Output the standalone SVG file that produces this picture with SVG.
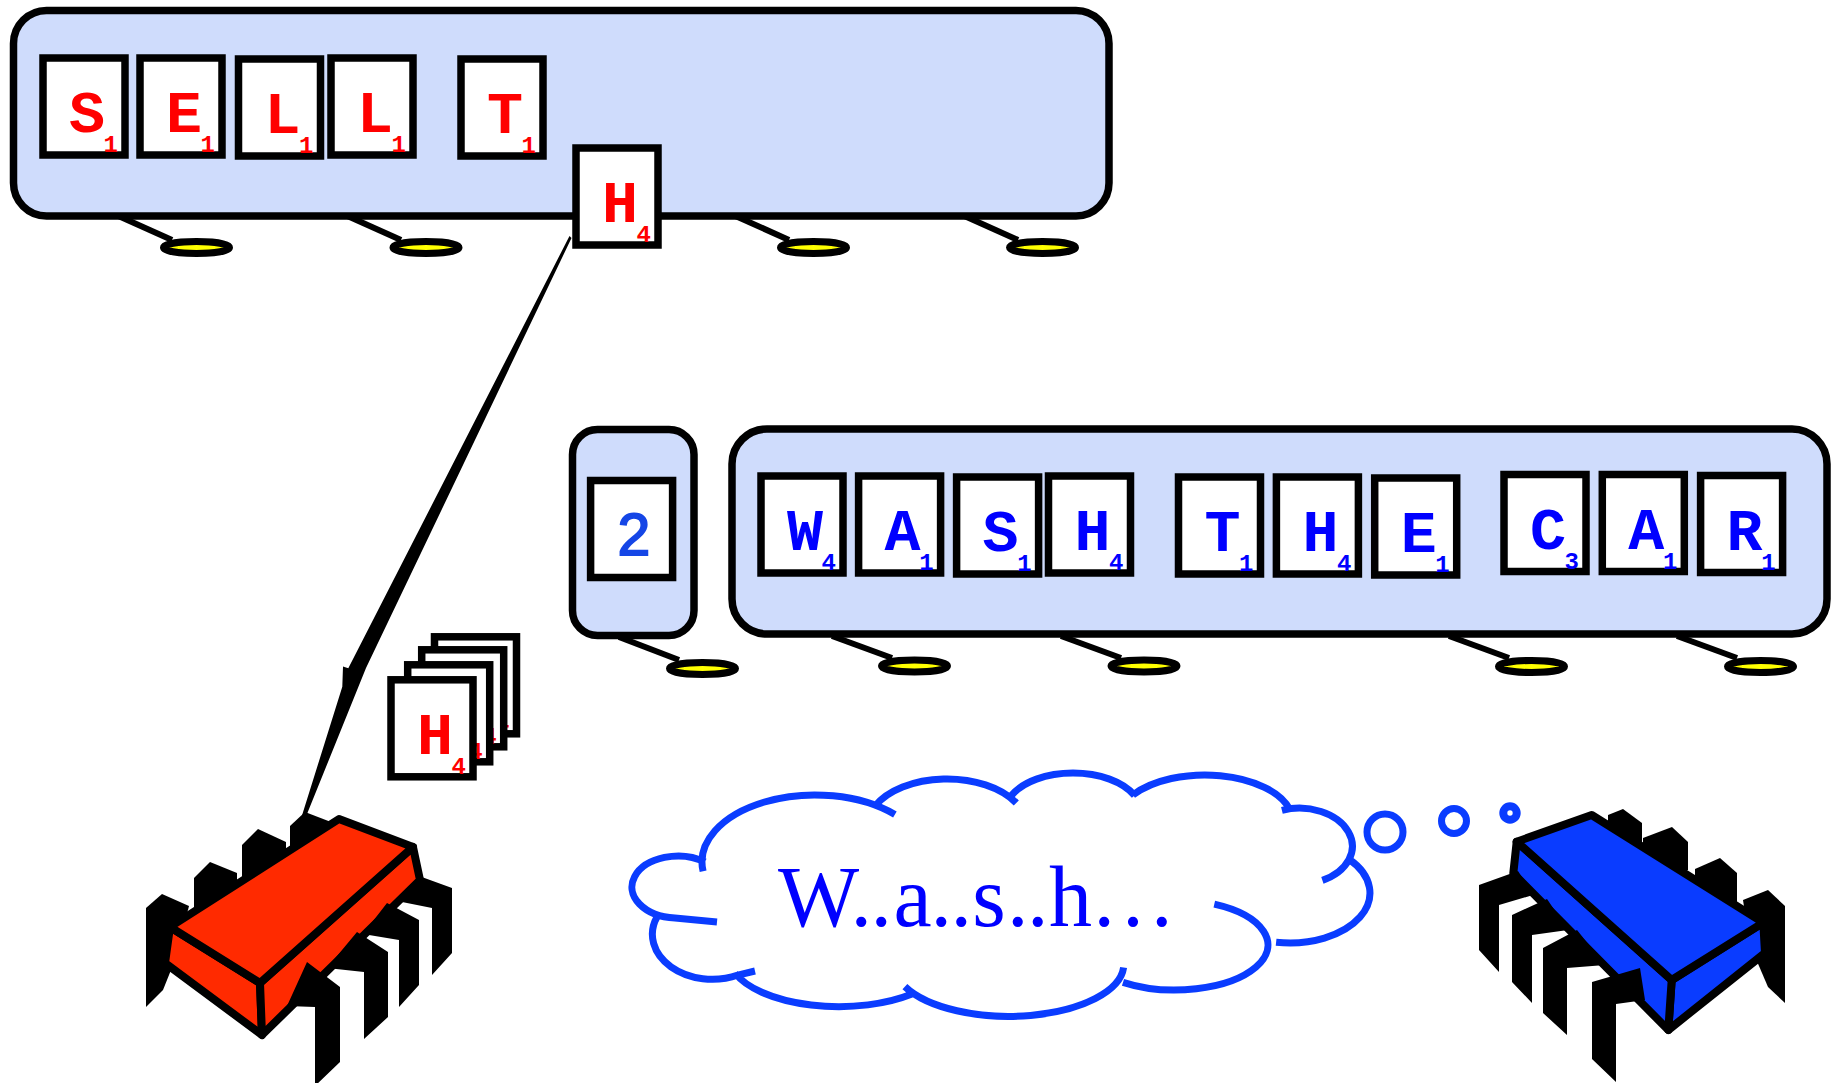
<svg xmlns="http://www.w3.org/2000/svg" width="1841" height="1083" viewBox="0 0 1841 1083">
  <style>
    .bus { fill: #cfdcfc; stroke: #000; stroke-width: 7.5; }
    .tile { fill: #fff; stroke: #000; stroke-width: 7.5; }
    .leg { stroke: #000; stroke-width: 6; fill: none; }
    .pad { fill: #ffff00; stroke: #000; stroke-width: 7; }
    .ltr { font-family: "Liberation Mono", "DejaVu Sans Mono", monospace; font-weight: bold; font-size: 60px; text-anchor: middle; }
    .sub { font-family: "Liberation Mono", "DejaVu Sans Mono", monospace; font-weight: bold; font-size: 24px; text-anchor: end; }
    .red { fill: #ff0000; }
    .blu { fill: #0000ff; }
    .pin { fill: #000; }
    .rface { fill: #ff2a00; stroke: #000; stroke-width: 8; stroke-linejoin: round; }
    .bface { fill: #0a3cff; stroke: #000; stroke-width: 8; stroke-linejoin: round; }
    .cloud { fill: none; stroke: #0a3cff; stroke-width: 7; }
    .bubble { fill: none; stroke: #0a3cff; }
  </style>

  <!-- upper bus: feet, body, letter tiles -->
  <g id="bus-top">
    <line class="leg" x1="114" y1="214" x2="172" y2="240"/>
    <line class="leg" x1="343" y1="214" x2="401" y2="240"/>
    <line class="leg" x1="731" y1="214" x2="789" y2="240"/>
    <line class="leg" x1="960" y1="214" x2="1018" y2="240"/>
    <ellipse class="pad" cx="196.5" cy="247.5" rx="33" ry="6"/>
    <ellipse class="pad" cx="426" cy="247.5" rx="33" ry="6"/>
    <ellipse class="pad" cx="813.5" cy="247.5" rx="33" ry="6"/>
    <ellipse class="pad" cx="1042.5" cy="247.5" rx="33" ry="6"/>
    <rect class="bus" x="13.5" y="10.5" width="1095.5" height="205.5" rx="33"/>
  </g>
  <g id="tile-S1"><rect class="tile" x="43" y="58" width="82" height="97"/><text class="ltr red" x="87" y="132">S</text><text class="sub red" x="118" y="152">1</text></g>
  <g id="tile-E1"><rect class="tile" x="140" y="58" width="82" height="97"/><text class="ltr red" x="184" y="132">E</text><text class="sub red" x="215" y="152">1</text></g>
  <g id="tile-L1a"><rect class="tile" x="238.5" y="59" width="82" height="97"/><text class="ltr red" x="282.5" y="133">L</text><text class="sub red" x="313.5" y="153">1</text></g>
  <g id="tile-L1b"><rect class="tile" x="331" y="58" width="82" height="97"/><text class="ltr red" x="375" y="132">L</text><text class="sub red" x="406" y="152">1</text></g>
  <g id="tile-T1"><rect class="tile" x="461" y="59" width="82" height="97"/><text class="ltr red" x="505" y="133">T</text><text class="sub red" x="536" y="153">1</text></g>
  <g id="tile-H4-top"><rect class="tile" x="576" y="148" width="82" height="97"/><text class="ltr red" x="620" y="222">H</text><text class="sub red" x="651" y="242">4</text></g>

  <!-- lower buses -->
  <g id="bus-count">
    <line class="leg" x1="619" y1="637" x2="679" y2="660"/>
    <ellipse class="pad" cx="702.5" cy="668.5" rx="33" ry="6"/>
    <rect class="bus" x="572.5" y="429.5" width="121.5" height="206" rx="25"/>
  </g>
  <g id="tile-2"><rect class="tile" x="590.6" y="480.5" width="82" height="97"/><text x="634" y="555" font-family="Liberation Sans, Arial, sans-serif" font-size="59" text-anchor="middle" fill="#1546e6" stroke="#1546e6" stroke-width="1.8">2</text></g>

  <g id="bus-bottom">
    <line class="leg" x1="832" y1="636" x2="892" y2="658"/>
    <line class="leg" x1="1061" y1="636" x2="1121" y2="658"/>
    <line class="leg" x1="1449" y1="636" x2="1509" y2="658"/>
    <line class="leg" x1="1677" y1="636" x2="1737" y2="658"/>
    <ellipse class="pad" cx="914.5" cy="666" rx="33" ry="6"/>
    <ellipse class="pad" cx="1144" cy="666" rx="33" ry="6"/>
    <ellipse class="pad" cx="1531.5" cy="666.5" rx="33" ry="6"/>
    <ellipse class="pad" cx="1760.5" cy="666.5" rx="33" ry="6"/>
    <rect class="bus" x="732" y="429" width="1095" height="205" rx="35"/>
  </g>
  <g id="tile-W4"><rect class="tile" x="761" y="476" width="82" height="97"/><text class="ltr blu" x="805" y="550">W</text><text class="sub blu" x="836" y="570">4</text></g>
  <g id="tile-A1a"><rect class="tile" x="858.6" y="476" width="82" height="97"/><text class="ltr blu" x="902.6" y="550">A</text><text class="sub blu" x="933.6" y="570">1</text></g>
  <g id="tile-S1b"><rect class="tile" x="956.6" y="477" width="82" height="97"/><text class="ltr blu" x="1000.6" y="551">S</text><text class="sub blu" x="1031.6" y="571">1</text></g>
  <g id="tile-H4a"><rect class="tile" x="1048.5" y="476" width="82" height="97"/><text class="ltr blu" x="1092.5" y="550">H</text><text class="sub blu" x="1123.5" y="570">4</text></g>
  <g id="tile-T1b"><rect class="tile" x="1178.5" y="477" width="82" height="97"/><text class="ltr blu" x="1222.5" y="551">T</text><text class="sub blu" x="1253.5" y="571">1</text></g>
  <g id="tile-H4b"><rect class="tile" x="1276.4" y="477" width="82" height="97"/><text class="ltr blu" x="1320.4" y="551">H</text><text class="sub blu" x="1351.4" y="571">4</text></g>
  <g id="tile-E1b"><rect class="tile" x="1374.7" y="478" width="82" height="97"/><text class="ltr blu" x="1418.7" y="552">E</text><text class="sub blu" x="1449.7" y="572">1</text></g>
  <g id="tile-C3"><rect class="tile" x="1504" y="474.5" width="82" height="97"/><text class="ltr blu" x="1548" y="548.5">C</text><text class="sub blu" x="1579" y="568.5">3</text></g>
  <g id="tile-A1b"><rect class="tile" x="1602.3" y="474.5" width="82" height="97"/><text class="ltr blu" x="1646.3" y="548.5">A</text><text class="sub blu" x="1677.3" y="568.5">1</text></g>
  <g id="tile-R1"><rect class="tile" x="1700.6" y="475.5" width="82" height="97"/><text class="ltr blu" x="1744.6" y="549.5">R</text><text class="sub blu" x="1775.6" y="569.5">1</text></g>

  <!-- tapered link from the lifted tile down to the red chip -->
  <g id="connectors">
    <polygon fill="#000" points="569.5,236 571.5,238 366,668 307,814 301.5,817 342.3,686.7 343,666.5 348.3,668.3"/>
  </g>

  <!-- stack of H tiles; only the corner digits of the rear tiles show -->
  <g id="card-stack">
    <g><rect class="tile" x="434.5" y="636.8" width="82" height="97"/><text class="sub red" x="509.5" y="730.8">4</text></g>
    <g><rect class="tile" x="421.7" y="649.8" width="82" height="97"/><text class="sub red" x="496.7" y="743.8">4</text></g>
    <g><rect class="tile" x="407.7" y="664.8" width="82" height="97"/><text class="sub red" x="482.7" y="758.8">4</text></g>
    <g><rect class="tile" x="391" y="679.8" width="82" height="97"/><text class="ltr red" x="435" y="753.8">H</text><text class="sub red" x="466" y="773.8">4</text></g>
  </g>

  <!-- red chip -->
  <g id="chip-red">
    <polygon class="pin" points="146,908 162,894 189,906 175,960 163,990 146,1007"/>
    <polygon class="pin" points="194,878 210,862 237,873 237,905 194,915"/>
    <polygon class="pin" points="242,845 258,829 286,842 286,870 242,885"/>
    <polygon class="pin" points="290,826 305,812 331,822 331,850 290,860"/>
    <polygon class="rface" points="170,927 165,963 262,1035 260,983"/>
    <polygon class="rface" points="260,983 413,847 420,880 262,1035"/>
    <polygon class="pin" points="419,876 452,888 452,953 432,975 432,908 397,901"/>
    <polygon class="pin" points="387,903 419,920 419,985 399,1007 399,940 363,934"/>
    <polygon class="pin" points="357,932 388,952 388,1017 364,1039 364,972 327,968"/>
    <polygon class="pin" points="307,962 340,987 340,1062 315,1086 315,1007 287,1006"/>
    <polygon class="rface" points="170,927 339,819 413,847 260,983"/>
  </g>

  <!-- blue chip -->
  <g id="chip-blue">
    <polygon class="pin" points="1608,815 1623,809 1642,823 1642,850 1608,850"/>
    <polygon class="pin" points="1643,838 1672,827 1688,842 1688,870 1643,870"/>
    <polygon class="pin" points="1695,869 1720,858 1737,873 1737,905 1695,905"/>
    <polygon class="pin" points="1743,900 1768,890 1785,906 1785,1003 1768,987 1750,945"/>
    <polygon class="bface" points="1671.7,980 1763.3,922.7 1765,953 1668.3,1030"/>
    <polygon class="bface" points="1516.7,841.7 1671.7,980 1668.3,1030 1513.3,873.3"/>
    <polygon class="pin" points="1518,871 1479,885 1479,950 1499,972 1499,905 1533,895"/>
    <polygon class="pin" points="1547,899 1512,915 1512,982 1532,1003 1532,935 1568,930"/>
    <polygon class="pin" points="1577,930 1543,948 1543,1013 1567,1035 1567,968 1605,965"/>
    <polygon class="pin" points="1640,968 1592,982 1592,1059 1616,1082 1616,1004 1645,1000"/>
    <polygon class="bface" points="1516.7,841.7 1591.7,815 1763.3,922.7 1671.7,980"/>
  </g>

  <!-- thought cloud -->
  <g id="thought">
    <path class="cloud" d="M 703.1 871.3 A 113 67 0 0 1 894.9 814.6
      M 874.5 806.7 A 80 48 0 0 1 1016.3 803
      M 1011.4 795.5 A 68 39 0 0 1 1134.6 795.5
      M 1132.9 795 A 88 47 0 0 1 1290 809.8
      M 1281.9 810.3 A 53 38 0 0 1 1322.4 880.4
      M 1349.4 859.5 A 80 50 0 0 1 1276.1 942.2
      M 1214.3 904.2 A 93 45 0 1 1 1123 982.3
      M 1123.6 967.6 A 115 52 0 0 1 904.9 986.6
      M 912 994 A 110 50 0 0 1 735 973
      M 755 971 L 738 975 A 60 45 0 0 1 657 917
      M 717 922 L 675 918 A 46 31 0 1 1 705 862"/>
    <text x="778 850.6 870.6 893.5 930.6 950.6 972.3 1007 1027 1049 1090" y="925.7" font-family="Liberation Serif, 'Times New Roman', serif" font-size="86" fill="#0000ff">W..a..s..h…</text>
    <circle class="bubble" cx="1385" cy="832" r="18" stroke-width="7"/>
    <circle class="bubble" cx="1454" cy="821" r="12.5" stroke-width="7"/>
    <circle class="bubble" cx="1510" cy="813" r="6.7" stroke-width="8"/>
  </g>
</svg>
